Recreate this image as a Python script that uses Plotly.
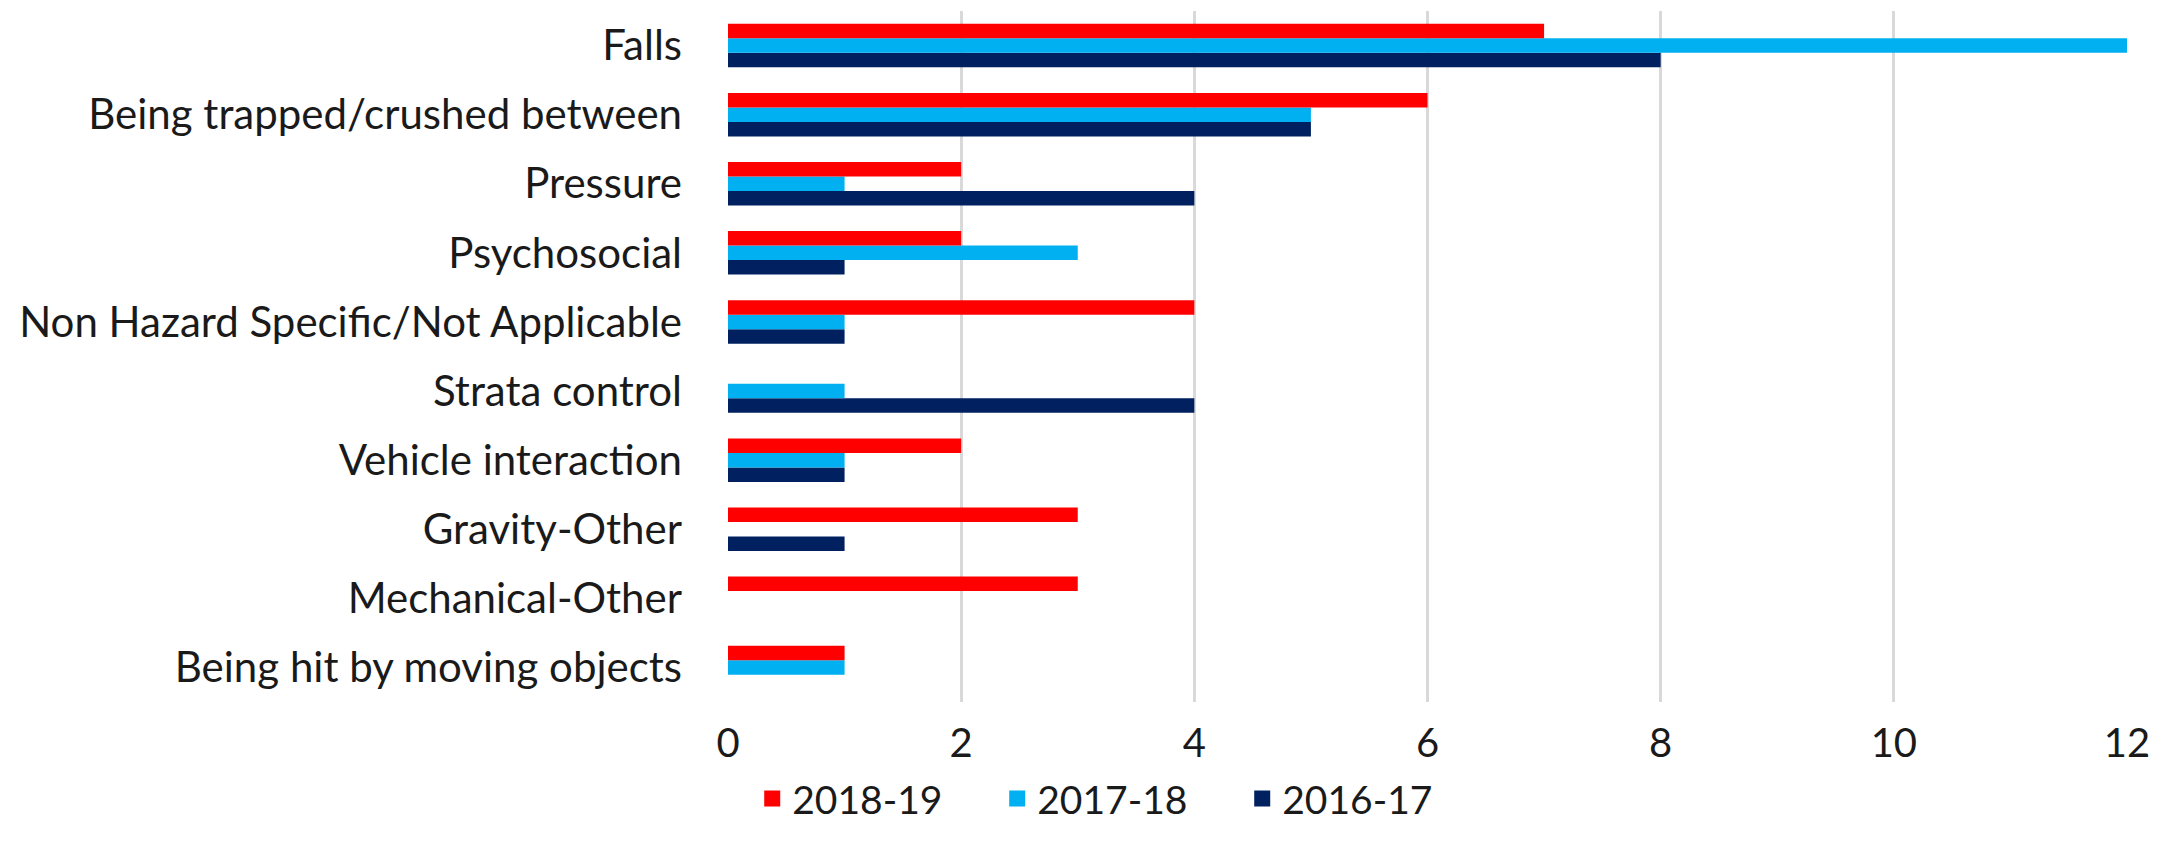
import plotly.graph_objects as go

categories = [
    "Falls",
    "Being trapped/crushed between",
    "Pressure",
    "Psychosocial",
    "Non Hazard Specific/Not Applicable",
    "Strata control",
    "Vehicle interaction",
    "Gravity-Other",
    "Mechanical-Other",
    "Being hit by moving objects",
]
y2018_19 = [7, 6, 2, 2, 4, 0, 2, 3, 3, 1]
y2017_18 = [12, 5, 1, 3, 1, 1, 1, 0, 0, 1]
y2016_17 = [8, 5, 4, 1, 1, 4, 1, 1, 0, 0]
x_ticks = [0, 2, 4, 6, 8, 10, 12]

FONT = "Lato"
series = [
    ("2016-17", y2016_17, "#002060"),
    ("2017-18", y2017_18, "#00B0F0"),
    ("2018-19", y2018_19, "#FF0000"),
]

fig = go.Figure()
# grouped horizontal bars are laid out bottom-up, so the oldest year goes first
for name, vals, color in series:
    fig.add_trace(go.Bar(y=categories, x=vals, name=name, orientation="h",
                         marker=dict(color=color, line=dict(width=0)),
                         showlegend=False))
# square legend keys like the Excel original
for name, vals, color in series:
    fig.add_trace(go.Scatter(x=[None], y=[None], mode="markers", name=name,
                             marker=dict(symbol="square", size=28, color=color)))

fig.update_layout(
    barmode="group",
    bargap=0.37,
    bargroupgap=0,
    width=2165,
    height=846,
    margin=dict(l=720, r=46, t=3, b=152),
    plot_bgcolor="white",
    paper_bgcolor="white",
    font=dict(family=FONT, size=42, color="#1a1a1a"),
    legend=dict(orientation="h", traceorder="reversed", x=0.28, xref="paper",
                xanchor="center", y=-0.14, yanchor="middle",
                bgcolor="rgba(0,0,0,0)",
                font=dict(size=39), itemwidth=30,
                entrywidth=200, entrywidthmode="pixels"),
)
fig.update_xaxes(range=[0, 12], tickvals=x_ticks, showgrid=True,
                 gridcolor="#D9D9D9", gridwidth=3, zeroline=False,
                 showline=False, ticklabelstandoff=14, automargin=False,
                 tickfont=dict(size=40))
fig.update_yaxes(categoryorder="array", categoryarray=categories[::-1],
                 showgrid=False, showline=False, zeroline=False,
                 ticklabelstandoff=45, automargin=False)

fig.write_html("out.html")
